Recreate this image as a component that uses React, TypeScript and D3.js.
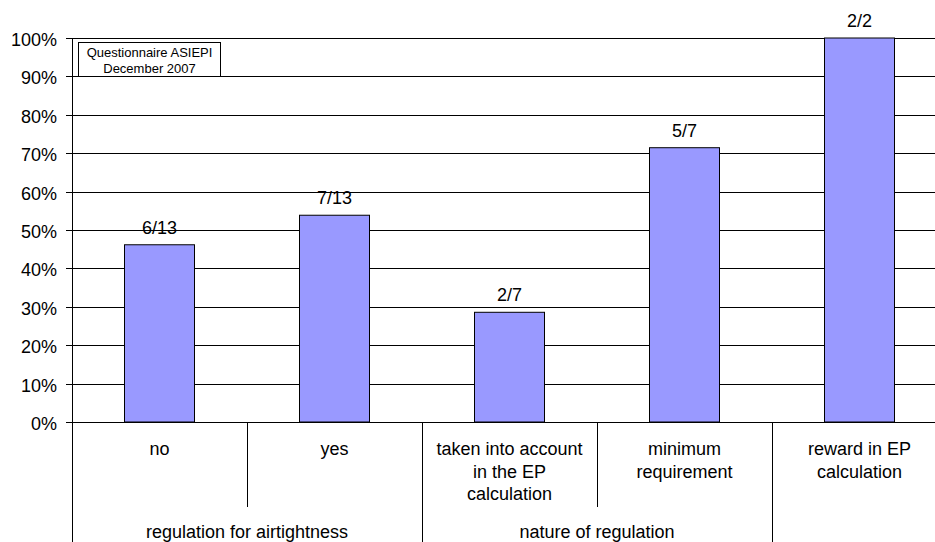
import React from "react";
import * as d3 from "d3";

const categories: string[][] = [
  ["no"],
  ["yes"],
  ["taken into account", "in the EP", "calculation"],
  ["minimum", "requirement"],
  ["reward in EP", "calculation"],
];
const values: number[] = [6 / 13, 7 / 13, 2 / 7, 5 / 7, 2 / 2];
const barLabels: string[] = ["6/13", "7/13", "2/7", "5/7", "2/2"];
const groups: { label: string; start: number; end: number }[] = [
  { label: "regulation for airtightness", start: 0, end: 2 },
  { label: "nature of regulation", start: 2, end: 4 },
  { label: "", start: 4, end: 5 },
];
const yTicks: number[] = [0, 0.1, 0.2, 0.3, 0.4, 0.5, 0.6, 0.7, 0.8, 0.9, 1.0];
const noteLines: string[] = ["Questionnaire ASIEPI", "December 2007"];

const W = 935;
const H = 542;
const left = 72;
const bandW = 175;
const top = 38;
const bottom = 422;
const FONT = "Liberation Sans, Arial, sans-serif";

export default function App() {
  const idx = categories.map((_, i) => i);
  const x = d3
    .scaleBand<number>()
    .domain(idx)
    .range([left, left + bandW * categories.length])
    .paddingInner(0.6)
    .paddingOuter(0.3);
  const xb = d3.scaleLinear().domain([0, categories.length]).range([left, left + bandW * categories.length]);
  const y = d3.scaleLinear().domain([0, 1]).range([bottom, top]);
  const fmt = d3.format(".0%");

  return (
    <svg
      width={W}
      height={H}
      style={{ position: "absolute", left: 0, top: 0, background: "#fff" }}
      fontFamily={FONT}
    >
      <rect x={0} y={0} width={W} height={H} fill="#fff" />
      {/* gridlines */}
      {yTicks.map((t) => (
        <g key={t}>
          <line
            x1={left - 6}
            x2={W}
            y1={Math.round(y(t)) + 0.5}
            y2={Math.round(y(t)) + 0.5}
            stroke="#000"
            strokeWidth={1}
          />
          <text x={57} y={y(t) + 8} textAnchor="end" fontSize={18} fill="#000">
            {fmt(t)}
          </text>
        </g>
      ))}
      {/* bars */}
      {values.map((v, i) => (
        <g key={i}>
          <rect
            x={x(i)!}
            y={y(v)}
            width={x.bandwidth()}
            height={bottom - y(v)}
            fill="#9999FF"
            stroke="#000"
            strokeWidth={1}
          />
          <text
            x={x(i)! + x.bandwidth() / 2}
            y={y(v) - 11}
            textAnchor="middle"
            fontSize={18}
            fill="#000"
          >
            {barLabels[i]}
          </text>
        </g>
      ))}
      {/* y axis */}
      <line x1={left + 0.5} x2={left + 0.5} y1={top} y2={H} stroke="#000" />
      {/* category dividers */}
      {d3.range(1, categories.length).map((k) => {
        const isGroupEdge = groups.some((g) => g.start === k);
        return (
          <line
            key={k}
            x1={Math.round(xb(k)) + 0.5}
            x2={Math.round(xb(k)) + 0.5}
            y1={bottom}
            y2={isGroupEdge ? H : 507}
            stroke="#000"
          />
        );
      })}
      {/* category labels */}
      {categories.map((lines, i) => (
        <text
          key={i}
          x={xb(i + 0.5)}
          y={455}
          textAnchor="middle"
          fontSize={18}
          fill="#000"
        >
          {lines.map((l, j) => (
            <tspan key={j} x={xb(i + 0.5)} dy={j === 0 ? 0 : 22.5}>
              {l}
            </tspan>
          ))}
        </text>
      ))}
      {/* group labels */}
      {groups.map((g, i) => (
        <text
          key={i}
          x={(xb(g.start) + xb(g.end)) / 2}
          y={538}
          textAnchor="middle"
          fontSize={18}
          fill="#000"
        >
          {g.label}
        </text>
      ))}
      {/* note box */}
      <rect x={78.5} y={42.5} width={142} height={34} fill="#fff" stroke="#000" />
      {noteLines.map((l, i) => (
        <text key={i} x={149.5} y={56.5 + i * 16.8} textAnchor="middle" fontSize={13} fill="#000">
          {l}
        </text>
      ))}
    </svg>
  );
}
